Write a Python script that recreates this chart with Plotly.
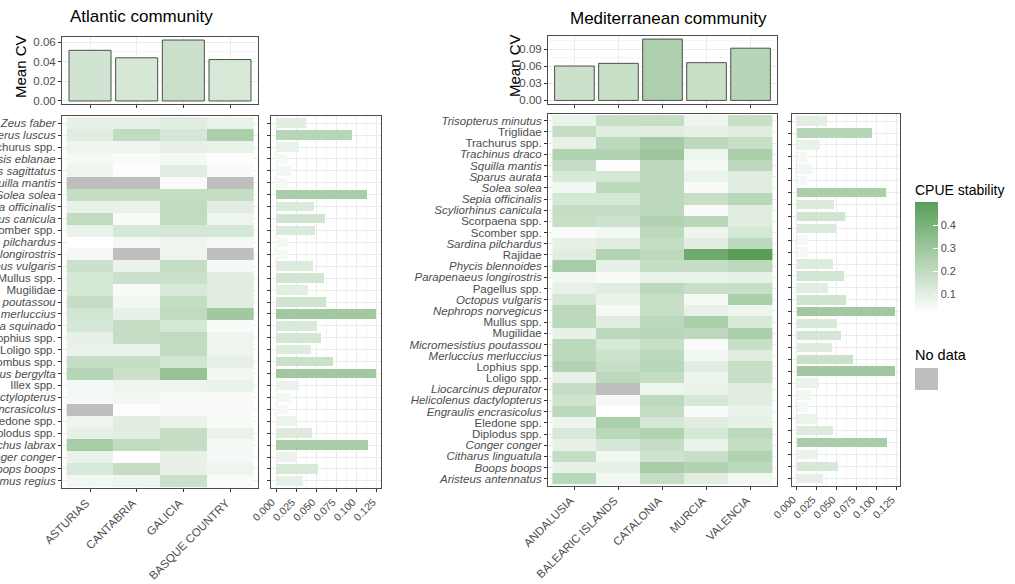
import plotly.graph_objects as go

W, H = 1015, 584

# ---------------- data ----------------
atl_regions = ["ASTURIAS", "CANTABRIA", "GALICIA", "BASQUE COUNTRY"]
atl_mean_cv = [0.0516, 0.0440, 0.0621, 0.0422]
atl_species = [
    "Zeus faber", "Trisopterus luscus", "Trachurus spp.", "Todaropsis eblanae",
    "Todarodes sagittatus", "Squilla mantis", "Solea solea", "Sepia officinalis",
    "Scyliorhinus canicula", "Scomber spp.", "Sardina pilchardus",
    "Parapenaeus longirostris", "Octopus vulgaris", "Mullus spp.", "Mugilidae",
    "Micromesistius poutassou", "Merluccius merluccius", "Maja squinado",
    "Lophius spp.", "Loligo spp.", "Lepidorhombus spp.", "Labrus bergylta",
    "Illex spp.", "Helicolenus dactylopterus", "Engraulis encrasicolus",
    "Eledone spp.", "Diplodus spp.", "Dicentrarchus labrax", "Conger conger",
    "Boops boops", "Argyrosomus regius",
]
atl_stability = [
    [0.09, 0.09, 0.11, 0.08],
    [0.11, 0.20, 0.14, 0.26],
    [0.07, 0.07, 0.09, 0.08],
    [0.05, 0.04, 0.05, 0.03],
    [0.07, 0.03, 0.11, 0.04],
    [None, None, 0.04, None],
    [0.19, 0.19, 0.19, 0.19],
    [0.09, 0.08, 0.20, 0.11],
    [0.20, 0.04, 0.20, 0.07],
    [0.08, 0.14, 0.14, 0.14],
    [0.02, 0.05, 0.07, 0.05],
    [0.05, None, 0.07, None],
    [0.17, 0.08, 0.19, 0.05],
    [0.14, 0.17, 0.17, 0.11],
    [0.14, 0.04, 0.13, 0.11],
    [0.19, 0.06, 0.19, 0.11],
    [0.15, 0.09, 0.20, 0.29],
    [0.14, 0.19, 0.14, 0.04],
    [0.09, 0.19, 0.20, 0.07],
    [0.08, 0.08, 0.20, 0.07],
    [0.19, 0.19, 0.15, 0.09],
    [0.23, 0.17, 0.32, 0.06],
    [0.05, 0.07, 0.07, 0.08],
    [0.05, 0.06, 0.04, 0.04],
    [None, 0.03, 0.04, 0.04],
    [0.07, 0.11, 0.08, 0.04],
    [0.09, 0.11, 0.19, 0.08],
    [0.27, 0.20, 0.19, 0.05],
    [0.08, 0.03, 0.09, 0.05],
    [0.13, 0.19, 0.09, 0.07],
    [0.06, 0.07, 0.17, 0.04],
]

med_regions = ["ANDALUSIA", "BALEARIC ISLANDS", "CATALONIA", "MURCIA", "VALENCIA"]
med_mean_cv = [0.0604, 0.0651, 0.1077, 0.0663, 0.0917]
med_species = [
    "Trisopterus minutus", "Triglidae", "Trachurus spp.", "Trachinus draco",
    "Squilla mantis", "Sparus aurata", "Solea solea", "Sepia officinalis",
    "Scyliorhinus canicula", "Scorpaena spp.", "Scomber spp.",
    "Sardina pilchardus", "Rajidae", "Phycis blennoides",
    "Parapenaeus longirostris", "Pagellus spp.", "Octopus vulgaris",
    "Nephrops norvegicus", "Mullus spp.", "Mugilidae",
    "Micromesistius poutassou", "Merluccius merluccius", "Lophius spp.",
    "Loligo spp.", "Liocarcinus depurator", "Helicolenus dactylopterus",
    "Engraulis encrasicolus", "Eledone spp.", "Diplodus spp.", "Conger conger",
    "Citharus linguatula", "Boops boops", "Aristeus antennatus",
]
med_stability = [
    [0.08, 0.18, 0.19, 0.07, 0.18],
    [0.19, 0.11, 0.11, 0.09, 0.11],
    [0.09, 0.21, 0.28, 0.21, 0.18],
    [0.24, 0.24, 0.30, 0.07, 0.26],
    [0.19, 0.03, 0.21, 0.05, 0.21],
    [0.13, 0.14, 0.21, 0.08, 0.11],
    [0.06, 0.21, 0.21, 0.04, 0.11],
    [0.14, 0.14, 0.21, 0.18, 0.22],
    [0.19, 0.19, 0.21, 0.04, 0.11],
    [0.18, 0.16, 0.24, 0.22, 0.11],
    [0.04, 0.06, 0.21, 0.07, 0.14],
    [0.09, 0.11, 0.19, 0.11, 0.21],
    [0.11, 0.24, 0.21, 0.44, 0.50],
    [0.27, 0.09, 0.19, 0.19, 0.21],
    [0.06, 0.04, 0.08, 0.08, 0.09],
    [0.09, 0.11, 0.21, 0.18, 0.18],
    [0.14, 0.08, 0.18, 0.05, 0.26],
    [0.21, 0.05, 0.18, 0.09, 0.07],
    [0.21, 0.11, 0.21, 0.26, 0.13],
    [0.09, 0.21, 0.22, 0.21, 0.26],
    [0.21, 0.13, 0.18, 0.04, 0.18],
    [0.21, 0.16, 0.21, 0.06, 0.11],
    [0.24, 0.18, 0.22, 0.11, 0.18],
    [0.09, 0.21, 0.19, 0.07, 0.18],
    [0.19, None, 0.07, 0.08, 0.11],
    [0.16, 0.05, 0.21, 0.14, 0.11],
    [0.21, 0.02, 0.19, 0.04, 0.08],
    [0.07, 0.26, 0.14, 0.11, 0.09],
    [0.13, 0.22, 0.24, 0.14, 0.21],
    [0.09, 0.14, 0.19, 0.08, 0.19],
    [0.19, 0.06, 0.16, 0.18, 0.24],
    [0.09, 0.09, 0.27, 0.24, 0.21],
    [0.22, 0.06, 0.19, 0.11, 0.06],
]

# species-level CV bars (right-hand panels; same bars shown in both)
side_cv = [
    0.0375, 0.0944, 0.0290, 0.0128, 0.0186, 0.0128, 0.1126, 0.0466,
    0.0610, 0.0487, 0.0144, 0.0144, 0.0458, 0.0598, 0.0396, 0.0615,
    0.1238, 0.0507, 0.0557, 0.0437, 0.0705, 0.1238, 0.0280, 0.0177,
    0.0144, 0.0260, 0.0449, 0.1138, 0.0260, 0.0523, 0.0334,
]
side_ticks = [0, 0.025, 0.05, 0.075, 0.1, 0.125]

# ---------------- style ----------------
FONT = "Liberation Sans, Arial, sans-serif"
GREEN = [[0, "#ffffff"], [1, "#589e58"]]
GREY = [[0, "#bebebe"], [1, "#bebebe"]]
BORDER = "#4d4d4d"
TXT = "#4d4d4d"
GRID = "#ebebeb"
MINOR = "#f5f5f5"


def fx(px):
    return px / W


def fy(py):
    return 1 - py / H


def fmt(name):
    if "spp." in name or name.endswith("idae"):
        return name
    return "<i>" + name + "</i>"


def base_axis(**kw):
    d = dict(showline=True, mirror=True, linecolor=BORDER, linewidth=1,
             ticks="outside", ticklen=3, tickcolor="#333333", tickwidth=1,
             tickfont=dict(size=11.5, color=TXT, family=FONT),
             zeroline=False, showgrid=True, gridcolor=GRID, gridwidth=1,
             automargin=False)
    d.update(kw)
    return d


fig = go.Figure()

panels = [
    dict(regions=atl_regions, mean_cv=atl_mean_cv, species=atl_species,
         stab=atl_stability, ax=("x", "y", "x2", "y2", "x3", "y3")),
    dict(regions=med_regions, mean_cv=med_mean_cv, species=med_species,
         stab=med_stability, ax=("x4", "y4", "x5", "y5", "x6", "y6")),
]

for p in panels:
    xa, ya, xh, yh, xs, ys = p["ax"]
    nreg = len(p["regions"])
    nsp = len(p["species"])
    # top bars
    fig.add_trace(go.Bar(
        x=list(range(nreg)), y=p["mean_cv"], width=0.9,
        marker=dict(color=p["mean_cv"], colorscale=GREEN, cmin=-0.02, cmax=0.24,
                    line=dict(color=BORDER, width=1)),
        xaxis=xa, yaxis=ya, showlegend=False, hoverinfo="skip"))
    # no-data cells
    na = [[1 if v is None else None for v in row] for row in p["stab"]]
    fig.add_trace(go.Heatmap(
        z=na, x=list(range(nreg)), y=list(range(nsp)), colorscale=GREY,
        showscale=False, xaxis=xh, yaxis=yh, hoverinfo="skip"))
    # stability heatmap
    fig.add_trace(go.Heatmap(
        z=p["stab"], x=list(range(nreg)), y=list(range(nsp)),
        coloraxis="coloraxis", xaxis=xh, yaxis=yh, hoverinfo="skip"))
    # side bars
    fig.add_trace(go.Bar(
        x=side_cv, y=list(range(len(side_cv))), orientation="h", width=0.8,
        marker=dict(color=side_cv, colorscale=GREEN, cmin=0, cmax=0.22,
                    line=dict(width=0)),
        xaxis=xs, yaxis=ys, showlegend=False, hoverinfo="skip"))

n_side = len(side_cv)
side_range = [-0.00619, 0.13]
side_minor = [0.0125, 0.0375, 0.0625, 0.0875, 0.1125]
SHIFT = -4
SP_FONT = dict(size=11.5, color=TXT, family=FONT)

layout_axes = dict(
    # Atlantic
    xaxis=base_axis(domain=[fx(62), fx(258)], range=[-0.6, len(atl_regions) - 0.4],
                    tickmode="array", tickvals=list(range(len(atl_regions))),
                    showticklabels=False, anchor="y"),
    yaxis=base_axis(domain=[fy(104), fy(37)], range=[-0.0031, 0.0652],
                    tick0=0, dtick=0.02, tickformat=".2f", anchor="x",
                    minor=dict(dtick=0.01, showgrid=True, gridcolor=MINOR)),
    xaxis2=base_axis(domain=[fx(62), fx(258)], range=[-0.6, len(atl_regions) - 0.4],
                     tickmode="array", tickvals=list(range(len(atl_regions))),
                     ticktext=atl_regions, tickangle=-45, anchor="y2",
                     ticklabelshift=SHIFT),
    yaxis2=base_axis(domain=[fy(488), fy(116)], range=[len(atl_species) - 0.4, -0.6],
                     tickmode="array", tickvals=list(range(len(atl_species))),
                     ticktext=[fmt(s) for s in atl_species], anchor="x2",
                     tickfont=SP_FONT),
    xaxis3=base_axis(domain=[fx(271), fx(381)], range=side_range,
                     tickmode="array", tickvals=side_ticks, tickformat=".3f",
                     tickangle=-45, tickfont=dict(size=10.5, color=TXT, family=FONT),
                     anchor="y3", ticklabelshift=SHIFT,
                     minor=dict(tickvals=side_minor, showgrid=True,
                                gridcolor=MINOR, ticks="")),
    yaxis3=base_axis(domain=[fy(488), fy(116)], range=[n_side - 0.4, -0.6],
                     tickmode="array", tickvals=list(range(n_side)),
                     showticklabels=False, anchor="x3"),
    # Mediterranean
    xaxis4=base_axis(domain=[fx(548), fx(777)], range=[-0.6, len(med_regions) - 0.4],
                     tickmode="array", tickvals=list(range(len(med_regions))),
                     showticklabels=False, anchor="y4"),
    yaxis4=base_axis(domain=[fy(103.5), fy(36)], range=[-0.0054, 0.1131],
                     tick0=0, dtick=0.03, tickformat=".2f", anchor="x4",
                     minor=dict(dtick=0.015, showgrid=True, gridcolor=MINOR)),
    xaxis5=base_axis(domain=[fx(548), fx(777)], range=[-0.6, len(med_regions) - 0.4],
                     tickmode="array", tickvals=list(range(len(med_regions))),
                     ticktext=med_regions, tickangle=-45, anchor="y5",
                     ticklabelshift=SHIFT),
    yaxis5=base_axis(domain=[fy(485.5), fy(114)], range=[len(med_species) - 0.4, -0.6],
                     tickmode="array", tickvals=list(range(len(med_species))),
                     ticktext=[fmt(s) for s in med_species], anchor="x5",
                     tickfont=SP_FONT),
    xaxis6=base_axis(domain=[fx(792), fx(900)], range=side_range,
                     tickmode="array", tickvals=side_ticks, tickformat=".3f",
                     tickangle=-45, tickfont=dict(size=10.5, color=TXT, family=FONT),
                     anchor="y6", ticklabelshift=SHIFT,
                     minor=dict(tickvals=side_minor, showgrid=True,
                                gridcolor=MINOR, ticks="")),
    yaxis6=base_axis(domain=[fy(485.5), fy(114)], range=[n_side - 0.4, -0.6],
                     tickmode="array", tickvals=list(range(n_side)),
                     showticklabels=False, anchor="x6"),
)

annotations = [
    dict(text="Atlantic community", x=fx(141), y=fy(17), font=dict(size=17, color="#000")),
    dict(text="Mediterranean community", x=fx(668), y=fy(18), font=dict(size=17, color="#000")),
    dict(text="Mean CV", x=fx(21), y=fy(67), textangle=-90, font=dict(size=15, color="#000")),
    dict(text="Mean CV", x=fx(514), y=fy(66), textangle=-90, font=dict(size=15, color="#000")),
    dict(text="CPUE stability", x=fx(913), y=fy(190), xanchor="left", font=dict(size=14, color="#000")),
    dict(text="No data", x=fx(913), y=fy(355), xanchor="left", font=dict(size=14.5, color="#000")),
]
for a in annotations:
    a.update(xref="paper", yref="paper", showarrow=False)
    a.setdefault("xanchor", "center")
    a["yanchor"] = "middle"
    a["font"]["family"] = FONT

fig.update_layout(
    template="none",
    width=W, height=H,
    margin=dict(l=0, r=0, t=0, b=0, pad=0),
    paper_bgcolor="white", plot_bgcolor="white",
    font=dict(family=FONT, color=TXT),
    showlegend=False, hovermode=False, bargap=0,
    coloraxis=dict(
        colorscale=GREEN, cmin=0.02, cmax=0.5,
        colorbar=dict(
            x=fx(915), xanchor="left", y=fy(202), yanchor="top",
            len=111 / H, lenmode="fraction", thickness=23, thicknessmode="pixels",
            outlinewidth=0, xpad=0, ypad=0,
            tickmode="array", tickvals=[0.1, 0.2, 0.3, 0.4],
            ticks="inside", ticklen=5, tickcolor="white", tickwidth=1,
            tickfont=dict(size=11, color=TXT, family=FONT),
        ),
    ),
    annotations=annotations,
    shapes=[dict(type="rect", xref="paper", yref="paper",
                 x0=fx(915), x1=fx(938), y0=fy(390), y1=fy(368),
                 fillcolor="#bebebe", line=dict(width=0))],
    **layout_axes,
)

fig.write_html("out.html",
               config={"displayModeBar": False, "staticPlot": True},
               post_script="document.body.style.margin='0';document.body.style.overflow='hidden';")
